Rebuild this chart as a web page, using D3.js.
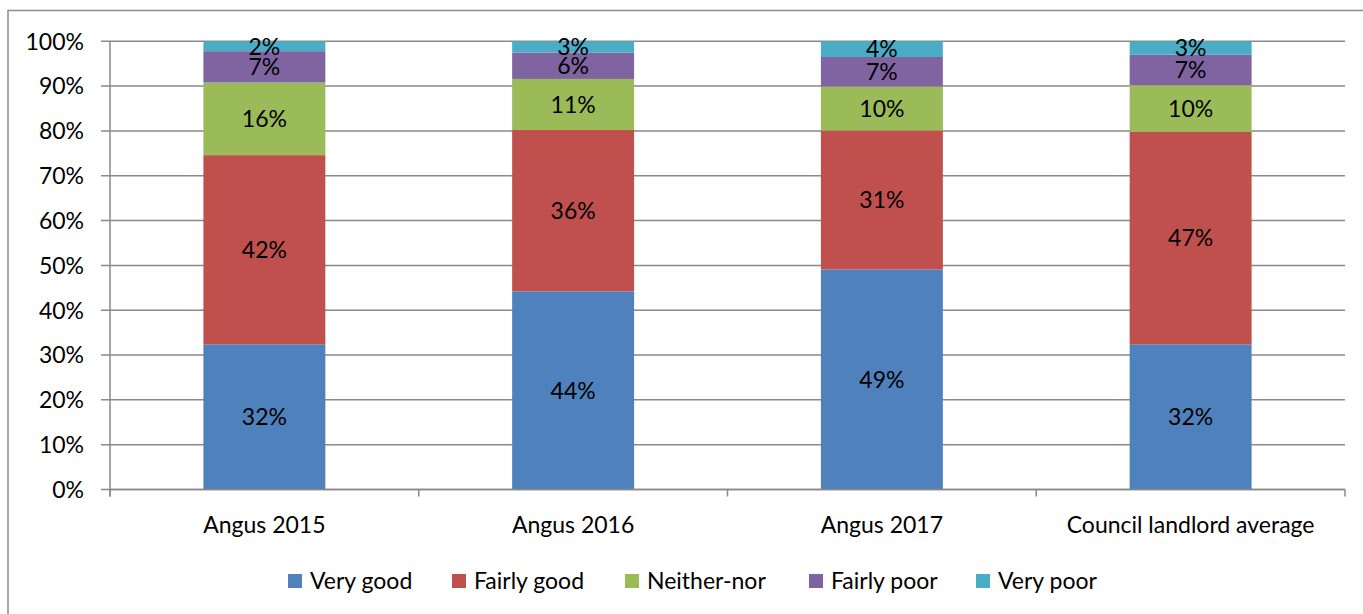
<!DOCTYPE html>
<html>
<head>
<meta charset="utf-8">
<script src="https://cdn.jsdelivr.net/npm/d3@7"></script>
<style>
  body { margin: 0; background: #fff; }
  text { font-family: Lato, "Open Sans", sans-serif; fill: #000; }
</style>
</head>
<body>
<div id="vis-svg"></div>
<script>
var width = 1363;
var height = 614;

// data (percent of respondents)
var categories = ["Angus 2015", "Angus 2016", "Angus 2017", "Council landlord average"];
var seriesNames = ["Very good", "Fairly good", "Neither-nor", "Fairly poor", "Very poor"];
var veryGood   = [32.4, 44.2, 49.1, 32.4];
var fairlyGood = [42.2, 36.0, 31.0, 47.4];
var neitherNor = [16.2, 11.4,  9.8, 10.4];
var fairlyPoor = [ 7.0,  5.9,  6.6,  6.8];
var veryPoor   = [ 2.2,  2.5,  3.5,  3.0];
var yTicks = [0, 10, 20, 30, 40, 50, 60, 70, 80, 90, 100];
var colors = ["#4F81BD", "#C0504D", "#9BBB59", "#8064A2", "#4BACC6"];

var seriesValues = [veryGood, fairlyGood, neitherNor, fairlyPoor, veryPoor];
var table = categories.map(function(c, i) {
  var row = { cat: c };
  seriesNames.forEach(function(s, j) { row[s] = seriesValues[j][i]; });
  return row;
});

var fontSize = "23px";

var svg = d3.select("#vis-svg").append("svg")
  .attr("width", width)
  .attr("height", height);

// outer chart border
svg.append("rect")
  .attr("x", 8).attr("y", 10.5)
  .attr("width", width + 10).attr("height", height)
  .attr("fill", "none")
  .attr("stroke", "#8c8c8c")
  .attr("stroke-width", 1.5);

var plot = { left: 110, right: 1345, top: 41.3, bottom: 489.5 };

var x = d3.scaleBand()
  .domain(categories)
  .range([plot.left, plot.right])
  .paddingInner(0.605)
  .paddingOuter(0.3025);

var band = d3.scaleBand().domain(categories).range([plot.left, plot.right]);

var y = d3.scaleLinear().domain([0, 100]).range([plot.bottom, plot.top]);

var grey = "#898989";

// gridlines + y ticks
svg.append("g").selectAll("line")
  .data(yTicks)
  .enter().append("line")
  .attr("x1", plot.left - 9)
  .attr("x2", plot.right)
  .attr("y1", function(d) { return y(d); })
  .attr("y2", function(d) { return y(d); })
  .attr("stroke", grey)
  .attr("stroke-width", 1.5);

svg.append("g").selectAll("text")
  .data(yTicks)
  .enter().append("text")
  .attr("x", 84)
  .attr("y", function(d) { return y(d); })
  .attr("dy", "0.36em")
  .attr("text-anchor", "end")
  .style("font-size", fontSize)
  .text(function(d) { return d + "%"; });

var stack = d3.stack().keys(seriesNames);
var stacked = stack(table);

var layers = svg.append("g").selectAll("g")
  .data(stacked)
  .enter().append("g")
  .attr("fill", function(d, i) { return colors[i]; });

layers.selectAll("rect")
  .data(function(d) { return d; })
  .enter().append("rect")
  .attr("x", function(d) { return x(d.data.cat); })
  .attr("width", x.bandwidth())
  .attr("y", function(d) { return y(d[1]); })
  .attr("height", function(d) { return y(d[0]) - y(d[1]); });

// y axis line and x axis line with ticks
svg.append("line")
  .attr("x1", plot.left).attr("x2", plot.left)
  .attr("y1", plot.top).attr("y2", plot.bottom + 7)
  .attr("stroke", grey).attr("stroke-width", 1.5);

svg.append("line")
  .attr("x1", plot.left).attr("x2", plot.right)
  .attr("y1", plot.bottom).attr("y2", plot.bottom)
  .attr("stroke", grey).attr("stroke-width", 1.5);

var bounds = categories.map(function(c) { return band(c); }).concat([plot.right]);
svg.append("g").selectAll("line")
  .data(bounds)
  .enter().append("line")
  .attr("x1", function(d) { return d; })
  .attr("x2", function(d) { return d; })
  .attr("y1", plot.bottom)
  .attr("y2", plot.bottom + 7)
  .attr("stroke", grey).attr("stroke-width", 1.5);

// data labels
layers.selectAll("text")
  .data(function(d) { return d; })
  .enter().append("text")
  .attr("x", function(d) { return x(d.data.cat) + x.bandwidth() / 2; })
  .attr("y", function(d) { return (y(d[0]) + y(d[1])) / 2; })
  .attr("dy", "0.36em")
  .attr("text-anchor", "middle")
  .style("font-size", fontSize)
  .style("fill", "#000")
  .text(function(d) { return Math.round(d[1] - d[0]) + "%"; });

// category labels
svg.append("g").selectAll("text")
  .data(categories)
  .enter().append("text")
  .attr("x", function(d) { return x(d) + x.bandwidth() / 2; })
  .attr("y", 525)
  .attr("dy", "0.36em")
  .attr("text-anchor", "middle")
  .style("font-size", fontSize)
  .text(function(d) { return d; });

// legend
var legendX = [288, 452, 625, 809, 976];
var legend = svg.append("g").selectAll("g")
  .data(seriesNames)
  .enter().append("g")
  .attr("transform", function(d, i) { return "translate(" + legendX[i] + ",574)"; });

legend.append("rect")
  .attr("width", 14).attr("height", 14)
  .attr("fill", function(d, i) { return colors[i]; });

legend.append("text")
  .attr("x", 22)
  .attr("y", 7)
  .attr("dy", "0.36em")
  .style("font-size", fontSize)
  .text(function(d) { return d; });
</script>
</body>
</html>
